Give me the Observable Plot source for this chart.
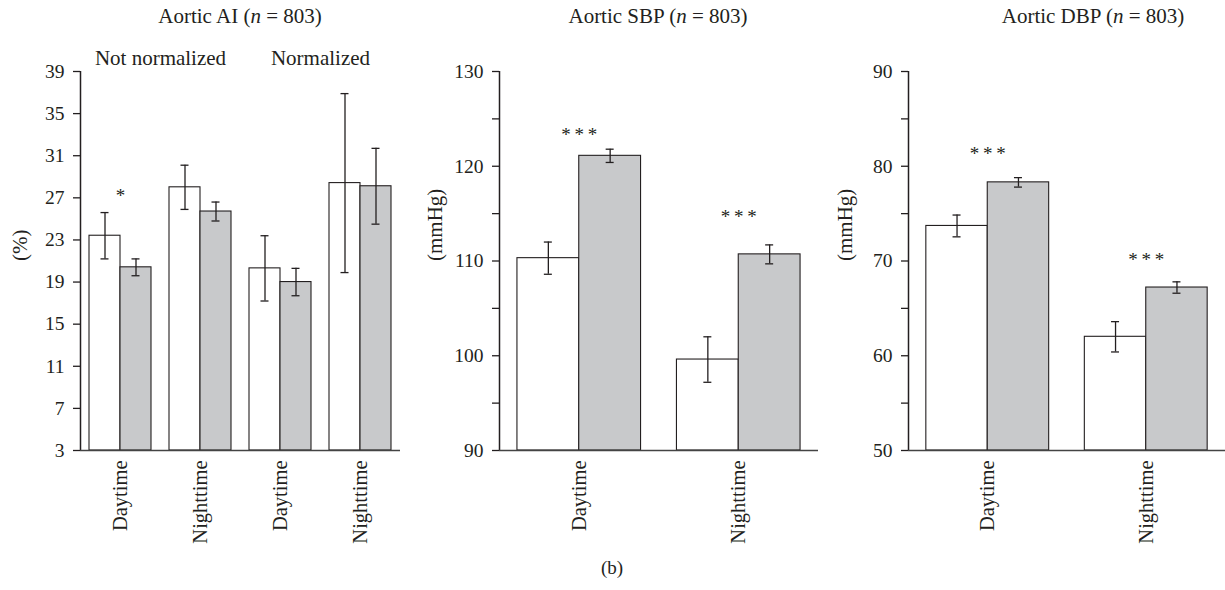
<!DOCTYPE html>
<html><head><meta charset="utf-8">
<script src="https://cdn.jsdelivr.net/npm/d3@7"></script>
<script src="https://cdn.jsdelivr.net/npm/@observablehq/plot@0.6"></script>
<style>
body{margin:0;background:#fff;}
#wrap{position:relative;width:1225px;height:590px;font-family:"Liberation Serif",serif;color:#231f20;overflow:hidden;}
.title{position:absolute;top:4px;font-size:21px;transform:translateX(-50%);white-space:nowrap;}
#cap{position:absolute;left:612px;top:557px;transform:translateX(-50%);font-size:19px;}
</style></head><body>
<div id="wrap"></div>
<script>
// ---------- data ----------
const aiCats = ["Daytime", "Nighttime", "Daytime", "Nighttime"];
const aiSub = ["Not normalized", "Normalized"];
const aiSubAt = [1, 3];
const aiWhite = [23.4, 28.0, 20.3, 28.4];
const aiWhiteErr = [2.2, 2.1, 3.1, 8.5];
const aiGray = [20.4, 25.7, 19.0, 28.1];
const aiGrayErr = [0.8, 0.9, 1.3, 3.6];
const aiSig = [{g: 0, t: "*", y: 27.2}];
const aiTicks = [3, 7, 11, 15, 19, 23, 27, 31, 35, 39];
const aiTickLabels = [3, 7, 11, 15, 19, 23, 27, 31, 35, 39];

const sbpCats = ["Daytime", "Nighttime"];
const sbpWhite = [110.3, 99.6];
const sbpWhiteErr = [1.7, 2.4];
const sbpGray = [121.1, 110.7];
const sbpGrayErr = [0.7, 1.0];
const sbpSig = [{g: 0, t: "*\u2009*\u2009*", y: 123.3}, {g: 1, t: "*\u2009*\u2009*", y: 114.7}];
const sbpTicks = [90, 95, 100, 105, 110, 115, 120, 125, 130];
const sbpTickLabels = [90, 100, 110, 120, 130];

const dbpCats = ["Daytime", "Nighttime"];
const dbpWhite = [73.7, 62.0];
const dbpWhiteErr = [1.15, 1.6];
const dbpGray = [78.3, 67.2];
const dbpGrayErr = [0.5, 0.6];
const dbpSig = [{g: 0, t: "*\u2009*\u2009*", y: 81.3}, {g: 1, t: "*\u2009*\u2009*", y: 70.1}];
const dbpTicks = [50, 55, 60, 65, 70, 75, 80, 85, 90];
const dbpTickLabels = [50, 60, 70, 80, 90];

// ---------- layout/style constants ----------
const INK = "#231f20";
const GRAY = "#c8c9cb";
const PAD = 0.1125;       // fraction of group width left empty on each side
const FONT = "Liberation Serif";

function panel(o) {
  const n = o.cats.length;
  const rows = [];
  o.cats.forEach((c, i) => {
    rows.push({i, s: "w", v: o.white[i], e: o.whiteErr[i], x1: i + PAD, x2: i + 0.5});
    rows.push({i, s: "g", v: o.gray[i], e: o.grayErr[i], x1: i + 0.5, x2: i + 1 - PAD});
  });
  rows.forEach(r => r.cx = (r.x1 + r.x2) / 2);
  const ymin = o.domain[0];
  const marks = [
    Plot.rectY(rows, {x1: "x1", x2: "x2", y1: () => ymin, y2: "v",
      fill: d => d.s === "w" ? "#ffffff" : GRAY, stroke: INK, strokeWidth: 1.1}),
    Plot.ruleX(rows, {x: "cx", y1: d => d.v - d.e, y2: d => d.v + d.e, stroke: INK, strokeWidth: 1.3}),
    Plot.ruleY(rows, {x1: "cx", x2: "cx", y: d => d.v + d.e, insetLeft: -4, insetRight: -4, stroke: INK, strokeWidth: 1.3}),
    Plot.ruleY(rows, {x1: "cx", x2: "cx", y: d => d.v - d.e, insetLeft: -4, insetRight: -4, stroke: INK, strokeWidth: 1.3}),
    Plot.ruleX([0], {stroke: INK, strokeWidth: 1.5}),
    Plot.ruleY([ymin], {stroke: "#444", strokeWidth: 1.6}),
    Plot.text(o.sig, {x: d => d.g + 0.5, y: "y", text: "t", fontSize: 19, fill: INK}),
    Plot.axisY({ticks: o.ticks, tickFormat: d => o.tickLabels.includes(d) ? String(d) : "",
      tickSize: 7, tickPadding: 9, fontSize: 19.5, stroke: INK, strokeWidth: 1.3, label: null}),
    Plot.text([o.label], {frameAnchor: "left", dx: o.labelDx, rotate: -90, text: d => d, fontSize: 21, fill: INK}),
    Plot.axisX({ticks: o.cats.map((c, i) => i + 0.5), tickFormat: d => o.cats[Math.floor(d)],
      tickSize: 0, tickRotate: -90, tickPadding: 10, fontSize: 20.5, label: null})
  ];
  if (o.sub) marks.push(Plot.text(o.sub, {x: (d, i) => o.subAt[i], frameAnchor: "top", dy: -21, text: d => d, fontSize: 21, fill: INK}));
  return Plot.plot({
    width: o.width, height: 560,
    marginLeft: o.ml, marginRight: o.mr, marginTop: 71, marginBottom: 110,
    x: {domain: [0, n], axis: null},
    y: {domain: o.domain, axis: null},
    style: {fontFamily: FONT, color: INK, background: "transparent", position: "absolute", left: o.left + "px", top: "0px", overflow: "visible"},
    marks
  });
}

const wrap = document.getElementById("wrap");
wrap.appendChild(panel({cats: aiCats, white: aiWhite, whiteErr: aiWhiteErr, gray: aiGray, grayErr: aiGrayErr,
  domain: [3, 39], ticks: aiTicks, tickLabels: aiTickLabels, sig: aiSig, label: "(%)", labelDx: -60,
  sub: aiSub, subAt: aiSubAt, left: 0, width: 410, ml: 80, mr: 10}));
wrap.appendChild(panel({cats: sbpCats, white: sbpWhite, whiteErr: sbpWhiteErr, gray: sbpGray, grayErr: sbpGrayErr,
  domain: [90, 130], ticks: sbpTicks, tickLabels: sbpTickLabels, sig: sbpSig, label: "(mmHg)", labelDx: -64,
  left: 410, width: 410, ml: 89, mr: 2}));
wrap.appendChild(panel({cats: dbpCats, white: dbpWhite, whiteErr: dbpWhiteErr, gray: dbpGray, grayErr: dbpGrayErr,
  domain: [50, 90], ticks: dbpTicks, tickLabels: dbpTickLabels, sig: dbpSig, label: "(mmHg)", labelDx: -63,
  left: 820, width: 405, ml: 88, mr: 0}));

const titles = [["Aortic AI", 240], ["Aortic SBP", 658], ["Aortic DBP", 1093]];
titles.forEach(([t, x]) => {
  const d = document.createElement("div");
  d.className = "title";
  d.style.left = x + "px";
  d.innerHTML = t + " (<i>n</i> = 803)";
  wrap.appendChild(d);
});
const cap = document.createElement("div");
cap.id = "cap"; cap.textContent = "(b)";
wrap.appendChild(cap);
</script>
</body></html>
